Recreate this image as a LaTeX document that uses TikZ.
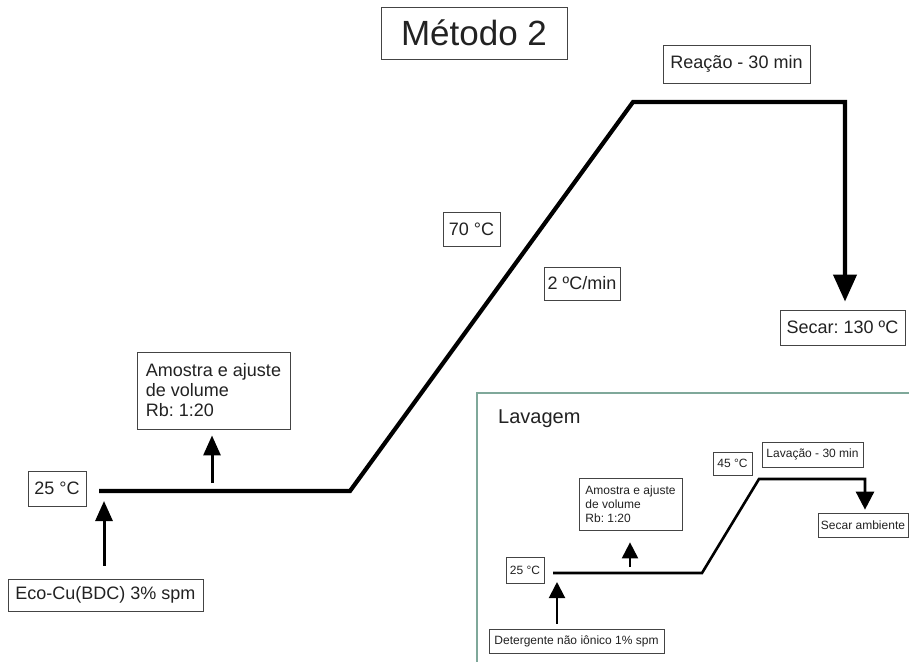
\documentclass[tikz,border=0pt]{standalone}
\usepackage{fontspec}
\setmainfont{Liberation Sans}
\usetikzlibrary{arrows.meta}
\definecolor{txt}{HTML}{222222}
\definecolor{boxc}{HTML}{444444}
\definecolor{framec}{HTML}{7FA89A}
\frenchspacing
\begin{document}
\begin{tikzpicture}[x=1pt,y=-1pt,
  lbl/.style={draw=boxc, line width=0.9pt, inner sep=0pt, text=txt, font=\fontsize{18}{20}\selectfont},
  slbl/.style={lbl, line width=0.7pt, font=\fontsize{12}{14}\selectfont},
  ramp/.style={line width=4.2pt, line join=miter},
  sramp/.style={line width=2.6pt, line join=miter},
  bigarr/.style={-{Triangle[length=27pt,width=23pt]}},
  arrS/.style={line width=3pt, -{Triangle[length=20pt,width=17pt]}},
  arrI/.style={line width=2pt, -{Triangle[length=16pt,width=16pt]}},
  arrIe/.style={-{Triangle[length=18pt,width=18pt]}}
]
\useasboundingbox[fill=white] (0,0) rectangle (909,662);

% ---------- main diagram ----------
\node[lbl, minimum width=186pt, minimum height=52pt, font=\fontsize{35}{38}\selectfont] (title) at (474,33) {Método 2};
\node[lbl, minimum width=147pt, minimum height=38pt] (reac) at (736.5,64) {Reação - 30 min};
\node[lbl, minimum width=57pt, minimum height=34pt] (t70) at (471.5,229) {70 °C};
\node[lbl, minimum width=76pt, minimum height=33pt] (rate) at (582,283.5) {2 ºC/min};
\node[lbl, minimum width=125pt, minimum height=35pt] (sec) at (842.5,327.5) {Secar: 130 ºC};
\node[lbl, minimum width=153pt, minimum height=77pt, align=left] (amo) at (213.5,390.5) {Amostra e ajuste\\de volume\\Rb: 1:20};
\node[lbl, minimum width=58pt, minimum height=35pt] (t25) at (57,488.5) {25 °C};
\node[lbl, minimum width=195pt, minimum height=32pt] (eco) at (105.5,595) {Eco-Cu(BDC) 3\% spm};

\coordinate (m0) at (99,491);
\coordinate (m1) at (350,491);
\coordinate (m2) at (633,102);
\coordinate (m3) at (845,102);
\coordinate (a1) at (104,491);
\coordinate (a2) at (212,491);

\draw[ramp, bigarr, shorten >=8pt] (m0) -- (m1) -- (m2) -- (m3) -- (m3 |- sec.north);
\draw[arrS, shorten <=13pt, shorten >=10pt] (eco.north -| a1) -- (a1);
\draw[arrS, shorten <=8pt, shorten >=6pt] (a2) -- (amo.south -| a2);

% ---------- Lavagem inset ----------
\draw[framec, line width=1.6pt] (909,393) -- (477,393) -- (477,662);
\node[text=txt, font=\fontsize{20}{22}\selectfont, anchor=base west, inner sep=0pt] (lav) at (498,423) {Lavagem};

\node[slbl, minimum width=103pt, minimum height=52pt, align=left] (amoI) at (630.5,504) {Amostra e ajuste\\de volume\\Rb: 1:20};
\node[slbl, minimum width=39pt, minimum height=23pt] (t45) at (732.5,463.5) {45 °C};
\node[slbl, minimum width=101pt, minimum height=25pt] (lavc) at (812.5,454.5) {Lavação - 30 min};
\node[slbl, minimum width=90pt, minimum height=24pt] (secI) at (863,525) {Secar ambiente};
\node[slbl, minimum width=38pt, minimum height=26pt] (t25I) at (525,570) {25 °C};
\node[slbl, minimum width=175pt, minimum height=24pt] (det) at (576.5,641) {Detergente não iônico 1\% spm};

\coordinate (s0) at (553,573);
\coordinate (s1) at (702,573);
\coordinate (s2) at (759,479);
\coordinate (s3) at (865,479);
\coordinate (b1) at (557,573);
\coordinate (b2) at (630,573);

\draw[sramp, arrIe, shorten >=3pt] (s0) -- (s1) -- (s2) -- (s3) -- (s3 |- secI.north);
\draw[arrI, shorten <=5pt, shorten >=9pt] (det.north -| b1) -- (b1);
\draw[arrI, shorten <=6pt, shorten >=12pt] (b2) -- (amoI.south -| b2);
\end{tikzpicture}
\end{document}
